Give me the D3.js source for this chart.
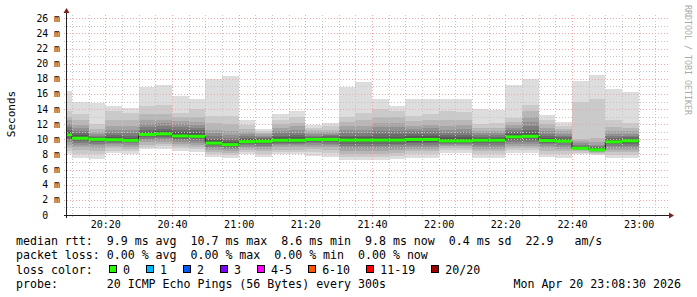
<!DOCTYPE html>
<html>
<head>
<meta charset="utf-8">
<script src="https://cdn.jsdelivr.net/npm/d3@7"></script>
<style>
  body { margin: 0; background: #fff; }
  svg text { font-family: "DejaVu Sans Mono", monospace; white-space: pre; }
</style>
</head>
<body>
<div id="chart"></div>
<script>
// end time of each 5 minute step (the step covers the 5 minutes before it)
const binEnds = ["20:10", "20:15", "20:20", "20:25", "20:30", "20:35", "20:40", "20:45", "20:50",
  "20:55", "21:00", "21:05", "21:10", "21:15", "21:20", "21:25", "21:30", "21:35", "21:40",
  "21:45", "21:50", "21:55", "22:00", "22:05", "22:10", "22:15", "22:20", "22:25", "22:30",
  "22:35", "22:40", "22:45", "22:50", "22:55", "23:00"];

// median rtt per step (ms)
const medians = [10.6, 10.15, 10.0, 9.95, 9.87, 10.65, 10.72, 10.45, 10.4, 9.5, 9.3, 9.7, 9.74,
  9.88, 9.88, 9.98, 9.98, 9.9, 9.9, 9.9, 9.9, 9.98, 9.98, 9.8, 9.8, 9.88, 9.88, 10.33, 10.4,
  9.85, 9.76, 8.83, 8.62, 9.67, 9.8];

// the 20 sorted ping times per step (ms)
const pings = [
  [8.0, 8.5, 8.9, 9.3, 9.6, 9.9, 10.1, 10.3, 10.45, 10.55, 10.65, 10.8, 11.0, 11.3, 11.6, 12.0, 12.5, 13.0, 13.7, 16.4],
  [7.55, 8.1, 8.6, 9.0, 9.3, 9.55, 9.75, 9.9, 10.05, 10.1, 10.2, 10.35, 10.55, 10.8, 11.1, 11.5, 11.9, 12.5, 13.3, 15.0],
  [7.45, 8.0, 8.5, 8.9, 9.2, 9.45, 9.65, 9.8, 9.9, 9.95, 10.05, 10.1, 10.2, 10.35, 10.5, 10.7, 11.0, 11.4, 12.0, 14.8],
  [8.2, 8.5, 8.8, 9.1, 9.35, 9.55, 9.7, 9.8, 9.9, 9.93, 9.98, 10.1, 10.3, 10.6, 10.9, 11.3, 11.8, 12.6, 13.7, 14.4],
  [8.1, 8.45, 8.75, 9.05, 9.3, 9.5, 9.65, 9.75, 9.82, 9.85, 9.9, 10.0, 10.2, 10.5, 10.8, 11.2, 11.7, 12.5, 13.5, 14.1],
  [8.66, 9.0, 9.3, 9.6, 9.85, 10.05, 10.25, 10.4, 10.55, 10.62, 10.68, 10.8, 11.0, 11.3, 11.6, 12.0, 12.5, 13.3, 14.4, 16.9],
  [8.75, 9.1, 9.4, 9.7, 9.95, 10.15, 10.35, 10.5, 10.62, 10.68, 10.76, 10.9, 11.1, 11.4, 11.7, 12.1, 12.6, 13.4, 14.5, 17.25],
  [8.43, 8.8, 9.1, 9.4, 9.65, 9.85, 10.05, 10.2, 10.35, 10.42, 10.48, 10.7, 11.0, 11.3, 11.6, 12.0, 12.4, 12.9, 13.5, 15.7],
  [8.3, 8.7, 9.0, 9.3, 9.55, 9.8, 10.0, 10.15, 10.3, 10.37, 10.43, 10.6, 10.9, 11.2, 11.5, 11.9, 12.3, 13.0, 13.95, 15.36],
  [7.7, 8.0, 8.3, 8.6, 8.85, 9.05, 9.2, 9.32, 9.42, 9.47, 9.53, 9.65, 9.85, 10.1, 10.4, 10.8, 11.3, 12.2, 13.15, 18.0],
  [7.55, 7.9, 8.2, 8.45, 8.7, 8.9, 9.05, 9.15, 9.23, 9.27, 9.33, 9.45, 9.65, 9.9, 10.2, 10.6, 11.1, 12.0, 13.06, 18.44],
  [8.0, 8.3, 8.55, 8.8, 9.0, 9.2, 9.35, 9.5, 9.6, 9.66, 9.74, 9.85, 10.0, 10.2, 10.45, 10.7, 11.0, 11.4, 11.9, 12.53],
  [7.7, 8.1, 8.4, 8.7, 8.95, 9.15, 9.35, 9.5, 9.62, 9.7, 9.78, 9.88, 10.0, 10.15, 10.3, 10.5, 10.7, 10.9, 11.1, 11.39],
  [8.0, 8.35, 8.65, 8.95, 9.2, 9.4, 9.55, 9.68, 9.78, 9.85, 9.91, 10.05, 10.25, 10.5, 10.8, 11.1, 11.5, 12.0, 12.6, 13.37],
  [8.0, 8.35, 8.65, 8.95, 9.2, 9.4, 9.55, 9.68, 9.78, 9.85, 9.91, 10.05, 10.3, 10.6, 10.9, 11.3, 11.7, 12.2, 12.9, 13.72],
  [7.78, 8.3, 8.7, 9.0, 9.3, 9.5, 9.65, 9.8, 9.9, 9.95, 10.01, 10.08, 10.2, 10.35, 10.5, 10.7, 10.95, 11.2, 11.5, 11.96],
  [7.7, 8.2, 8.6, 8.95, 9.25, 9.45, 9.62, 9.78, 9.88, 9.95, 10.01, 10.1, 10.22, 10.38, 10.55, 10.75, 11.0, 11.3, 11.7, 12.18],
  [7.25, 7.7, 8.1, 8.5, 8.85, 9.15, 9.4, 9.6, 9.75, 9.85, 9.93, 10.05, 10.25, 10.5, 10.8, 11.2, 11.7, 12.3, 13.0, 16.95],
  [7.25, 7.7, 8.1, 8.5, 8.85, 9.15, 9.4, 9.6, 9.75, 9.85, 9.93, 10.05, 10.25, 10.5, 10.8, 11.2, 11.8, 12.6, 13.5, 17.6],
  [7.25, 7.7, 8.1, 8.5, 8.85, 9.15, 9.4, 9.6, 9.75, 9.85, 9.93, 10.1, 10.35, 10.7, 11.1, 11.6, 12.2, 13.0, 14.0, 15.36],
  [7.34, 7.8, 8.2, 8.55, 8.9, 9.2, 9.42, 9.6, 9.75, 9.85, 9.93, 10.1, 10.35, 10.7, 11.1, 11.6, 12.2, 12.9, 13.7, 14.4],
  [7.55, 8.0, 8.4, 8.75, 9.05, 9.3, 9.5, 9.7, 9.85, 9.94, 10.02, 10.2, 10.45, 10.75, 11.05, 11.4, 11.8, 12.4, 13.06, 15.27],
  [7.55, 8.0, 8.4, 8.75, 9.05, 9.3, 9.5, 9.7, 9.85, 9.94, 10.02, 10.2, 10.45, 10.75, 11.1, 11.5, 11.9, 12.5, 13.3, 15.36],
  [8.2, 8.55, 8.85, 9.1, 9.3, 9.45, 9.58, 9.68, 9.75, 9.78, 9.82, 10.0, 10.3, 10.6, 10.9, 11.3, 11.8, 12.6, 13.7, 15.36],
  [8.2, 8.55, 8.85, 9.1, 9.3, 9.45, 9.58, 9.68, 9.75, 9.78, 9.82, 10.0, 10.3, 10.6, 10.95, 11.35, 11.85, 12.6, 13.6, 15.36],
  [7.55, 8.0, 8.4, 8.75, 9.05, 9.3, 9.5, 9.65, 9.78, 9.85, 9.91, 10.0, 10.15, 10.35, 10.55, 10.8, 11.1, 11.5, 12.0, 14.0],
  [7.55, 8.0, 8.4, 8.75, 9.05, 9.3, 9.5, 9.65, 9.78, 9.85, 9.91, 10.0, 10.15, 10.35, 10.55, 10.8, 11.1, 11.5, 12.1, 13.85],
  [8.2, 8.55, 8.85, 9.15, 9.4, 9.65, 9.85, 10.05, 10.2, 10.28, 10.38, 10.5, 10.7, 10.95, 11.2, 11.5, 11.85, 12.3, 12.85, 17.25],
  [8.2, 8.55, 8.85, 9.15, 9.45, 9.7, 9.95, 10.15, 10.3, 10.37, 10.43, 10.6, 10.9, 11.3, 11.8, 12.3, 12.9, 13.7, 14.6, 18.0],
  [7.7, 8.1, 8.45, 8.8, 9.1, 9.35, 9.52, 9.66, 9.76, 9.82, 9.88, 10.0, 10.2, 10.45, 10.75, 11.1, 11.5, 12.0, 12.6, 13.28],
  [7.55, 8.0, 8.4, 8.75, 9.05, 9.3, 9.48, 9.6, 9.7, 9.73, 9.79, 9.9, 10.05, 10.25, 10.5, 10.75, 11.05, 11.4, 11.8, 12.27],
  [8.0, 8.25, 8.45, 8.6, 8.7, 8.75, 8.78, 8.8, 8.82, 8.83, 8.85, 8.9, 9.0, 9.15, 9.3, 9.5, 9.75, 10.07, 15.0, 17.69],
  [7.87, 8.05, 8.2, 8.32, 8.42, 8.5, 8.55, 8.58, 8.6, 8.61, 8.63, 8.7, 8.8, 8.95, 9.1, 9.3, 9.6, 10.2, 15.36, 18.48],
  [7.55, 7.95, 8.3, 8.6, 8.9, 9.15, 9.35, 9.5, 9.6, 9.64, 9.7, 9.8, 9.95, 10.15, 10.4, 10.7, 11.05, 11.6, 12.62, 16.6],
  [7.55, 7.95, 8.3, 8.6, 8.9, 9.15, 9.38, 9.55, 9.68, 9.76, 9.84, 9.95, 10.1, 10.3, 10.5, 10.75, 11.05, 11.5, 12.1, 16.23]
];

const lossLabels = ["0", "1", "2", "3", "4-5", "6-10", "11-19", "20/20"];
const lossColors = ["#26ff00", "#00b8ff", "#0059ff", "#7e00ff", "#ff00ff", "#ff5500", "#ff0000", "#a00000"];

const rttLine = "median rtt:  9.9 ms avg  10.7 ms max  8.6 ms min  9.8 ms now  0.4 ms sd  22.9   am/s";
const lossLine = "packet loss: 0.00 % avg  0.00 % max  0.00 % min  0.00 % now";
const probeLine = "probe:       20 ICMP Echo Pings (56 Bytes) every 300s";
const stampLine = "Mon Apr 20 23:08:30 2026";

const width = 697, height = 297;
const charW = 7.02;
const day = (h, m, s) => new Date(2026, 3, 20, h, m, s || 0);
const parseHM = (s) => day(+s.split(":")[0], +s.split(":")[1]);
const t0 = day(20, 8, 30), t1 = day(23, 8, 30);

const x = d3.scaleTime().domain([t0, t1]).range([67, 667]);
const y = d3.scaleLinear().domain([0, 26.44]).range([215, 15]);

const svg = d3.select("#chart").append("svg")
  .attr("width", width).attr("height", height)
  .style("background", "#fff");

// smoke: 10 nested bands, outer band lightest (smokeping palette)
const steps = binEnds.map((e, i) => {
  const end = parseHM(e);
  const start = new Date(Math.max(+t0, +end - 300000));
  return { start, end, p: pings[i], med: medians[i] };
});

const smoke = svg.append("g").attr("shape-rendering", "crispEdges");
for (let j = 1; j <= 10; j++) {
  const c = Math.floor(190 / 10 * (10 - j)) + 50;
  const col = d3.rgb(c, c, c).formatHex();
  smoke.selectAll(".band" + j)
    .data(steps)
    .enter()
    .append("rect")
    .attr("x", (d) => Math.round(x(d.start)))
    .attr("width", (d) => Math.round(x(d.end)) - Math.round(x(d.start)))
    .attr("y", (d) => Math.round(y(d.p[20 - j])))
    .attr("height", (d) => Math.max(1, Math.round(y(d.p[j - 1])) - Math.round(y(d.p[20 - j]))))
    .attr("fill", col);
}

// grid, drawn over the smoke like rrdtool does
const grid = svg.append("g").attr("shape-rendering", "crispEdges");
const minorCol = "#c4c4c4", majorCol = "#eaa8a8";
const yMinor = d3.range(1, 27).filter((v) => v % 2 !== 0);
const yMajor = d3.range(2, 27, 2);
grid.selectAll(".ymin").data(yMinor).enter().append("line")
  .attr("x1", 64).attr("x2", 668)
  .attr("y1", (d) => Math.round(y(d)) + 0.5).attr("y2", (d) => Math.round(y(d)) + 0.5)
  .attr("stroke", minorCol).attr("stroke-dasharray", "1,2");
grid.selectAll(".ymaj").data(yMajor).enter().append("line")
  .attr("x1", 64).attr("x2", 668)
  .attr("y1", (d) => Math.round(y(d)) + 0.5).attr("y2", (d) => Math.round(y(d)) + 0.5)
  .attr("stroke", majorCol).attr("stroke-dasharray", "1,2");

const xMinor = x.ticks(d3.timeMinute.every(5)).filter((d) => d.getMinutes() % 20 !== 0);
const xMajor = x.ticks(d3.timeMinute.every(20));
grid.selectAll(".xmin").data(xMinor).enter().append("line")
  .attr("x1", (d) => Math.round(x(d)) + 0.5).attr("x2", (d) => Math.round(x(d)) + 0.5)
  .attr("y1", 15).attr("y2", 217)
  .attr("stroke", minorCol).attr("stroke-dasharray", "1,2");
grid.selectAll(".xmaj").data(xMajor).enter().append("line")
  .attr("x1", (d) => Math.round(x(d)) + 0.5).attr("x2", (d) => Math.round(x(d)) + 0.5)
  .attr("y1", 15).attr("y2", 218)
  .attr("stroke", majorCol).attr("stroke-dasharray", "1,2");

// median: thin dark step line, then loss coloured line (all 0 % loss)
const medPts = [];
steps.forEach((d) => {
  medPts.push([x(d.start), y(d.med)]);
  medPts.push([x(d.end), y(d.med)]);
});
svg.append("path")
  .attr("d", d3.line()(medPts))
  .attr("fill", "none").attr("stroke", "#202020").attr("stroke-width", 1);

svg.append("g").selectAll("line").data(steps).enter().append("line")
  .attr("x1", (d) => x(d.start)).attr("x2", (d) => x(d.end))
  .attr("y1", (d) => y(d.med)).attr("y2", (d) => y(d.med))
  .attr("stroke", lossColors[0]).attr("stroke-width", 3);

// axes
const axes = svg.append("g").attr("shape-rendering", "crispEdges");
axes.append("line").attr("x1", 64).attr("x2", 670).attr("y1", 215.5).attr("y2", 215.5)
  .attr("stroke", "#1f1f1f");
axes.append("line").attr("x1", 66.5).attr("x2", 66.5).attr("y1", 218).attr("y2", 12)
  .attr("stroke", "#1f1f1f");
svg.append("path").attr("d", "M669,212.5 L674,215.5 L669,218.5 Z").attr("fill", "#801f1f");
svg.append("path").attr("d", "M63.5,13 L66.5,8 L69.5,13 Z").attr("fill", "#801f1f");

// axis labels
svg.append("g").selectAll("text").data(d3.range(0, 27, 2)).enter().append("text")
  .attr("x", 60).attr("y", (d) => y(d) + 3.5)
  .attr("text-anchor", "end").attr("font-size", "9.8px").attr("fill", "#000")
  .text((d) => (d === 0 ? "0  " : d + " m"));

svg.append("g").selectAll("text").data(xMajor).enter().append("text")
  .attr("x", (d) => x(d) + 0.5).attr("y", 228)
  .attr("text-anchor", "middle").attr("font-size", "10px").attr("fill", "#000")
  .text(d3.timeFormat("%H:%M"));

svg.append("text")
  .attr("transform", "translate(15,114) rotate(-90)")
  .attr("text-anchor", "middle").attr("font-size", "11px").attr("fill", "#000")
  .text("Seconds");

svg.append("text")
  .attr("transform", "translate(685,5) rotate(90)")
  .attr("font-size", "8.3px").attr("fill", "#aaaaaa")
  .text("RRDTOOL / TOBI OETIKER");

// legend
const legend = svg.append("g").attr("font-size", "11.6px").attr("fill", "#000");
legend.append("text").attr("x", 16).attr("y", 245).text(rttLine);
legend.append("text").attr("x", 16).attr("y", 259).text(lossLine);
legend.append("text").attr("x", 16).attr("y", 273.5).text("loss color:");
legend.append("text").attr("x", 16).attr("y", 287.5).text(probeLine);
legend.append("text").attr("x", 681).attr("y", 287.5).attr("text-anchor", "end").text(stampLine);

let lx = 108.5;
lossLabels.forEach((lab, i) => {
  legend.append("rect")
    .attr("x", lx + 0.5).attr("y", 265.5).attr("width", 7).attr("height", 7)
    .attr("fill", lossColors[i]).attr("stroke", "#000").attr("stroke-width", 1)
    .attr("shape-rendering", "crispEdges");
  legend.append("text").attr("x", lx + 14.5).attr("y", 273.5).text(lab);
  lx += 14.5 + charW * lab.length + 15.5;
});
</script>
</body>
</html>
